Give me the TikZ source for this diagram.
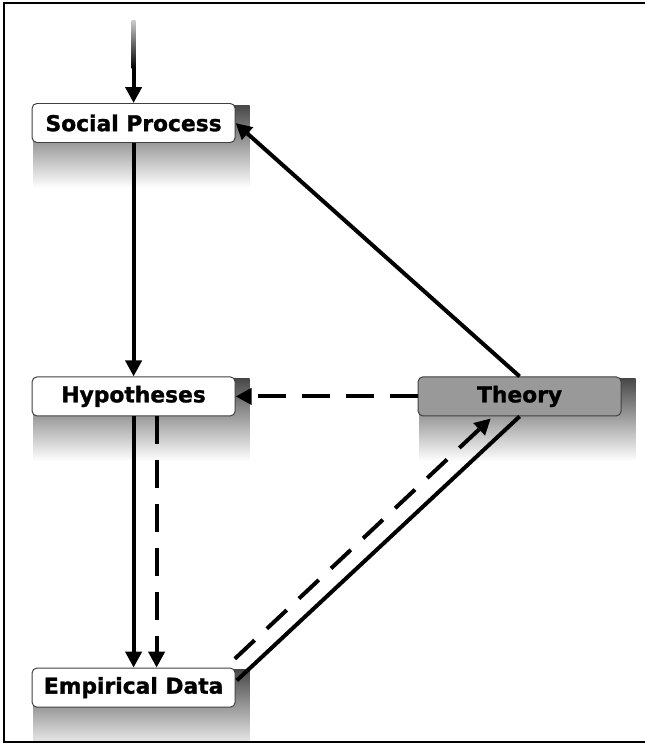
\documentclass[tikz,border=0pt]{standalone}
\usepackage{fontspec}
\newfontfamily\boxfont[FakeBold=1.3]{DejaVu Sans Bold}
\usetikzlibrary{positioning,calc,arrows.meta,backgrounds}
\tikzset{font=\boxfont}

\begin{document}
\begin{tikzpicture}
	\useasboundingbox (0,0) rectangle (16.125,-18.575);
	\draw[line width=1.2pt] (16.2,-0.075) -- (0.1,-0.075) -- (0.1,-18.55) -- (16.2,-18.55);
	\begin{scope}
		\tikzstyle{every node}=[align=center, draw=black!75, line width=0.7pt, fill=white, rounded corners=0.12cm, minimum width=5.075cm, minimum height=0.975cm, inner sep=1pt, font=\boxfont\fontsize{15.5}{18}\selectfont]
		\tikzstyle{flow}=[line width=0.1cm, -{Triangle[length=0.4cm,width=0.4cm]}]
		\tikzstyle{dashflow}=[flow, dash pattern=on 0.68cm off 0.42cm]
		\tikzstyle{shadow}=[top color=black!72, middle color=black!58, bottom color=white]
		\node (social) at (3.34, -3.075) {Social Process};
		\node (hyp) at (3.34, -9.91) {Hypotheses};
		\node (data) at (3.34, -17.19) {Empirical Data};
		\node[fill=black!40] (theory) at (12.99, -9.91) {Theory};
		\coordinate (in) at (3.34, -0.5);

		\begin{pgfonlayer}{background}
			\foreach \n in {social,hyp,data,theory}
				\shade[shadow] ($(\n.north west)+(0.05,-0.05)$) rectangle ($(\n.south east)+(0.35,-1.12)$);
		\end{pgfonlayer}

		% incoming line fades in from the top
		\shade[top color=black!20, bottom color=black] ($(in)+(-0.05,0)$) rectangle ($(in)+(0.05,-1.2)$);
		\draw[flow] ($(in)+(0,-1.2)$) -- (social.north);
		\draw[flow] (social.south) -- (hyp.north);
		\draw[flow] (hyp.south) -- (data.north);
		\draw[dashflow] ($(hyp.south)+(0.575,0)$) -- ($(data.north)+(0.575,0)$);
		\draw[line width=0.1cm] ($(data.north east)+(0.03,-0.32)$) -- (theory.south);
		\draw[dashflow] ($(data.north east)+(-0.02,0.22)$) -- ($(theory.south)+(-0.72,-0.05)$);
		\draw[flow] (theory.north) -- (social.east);
		\draw[dashflow] (theory.west) -- (hyp.east);
	\end{scope}
\end{tikzpicture}
\end{document}
